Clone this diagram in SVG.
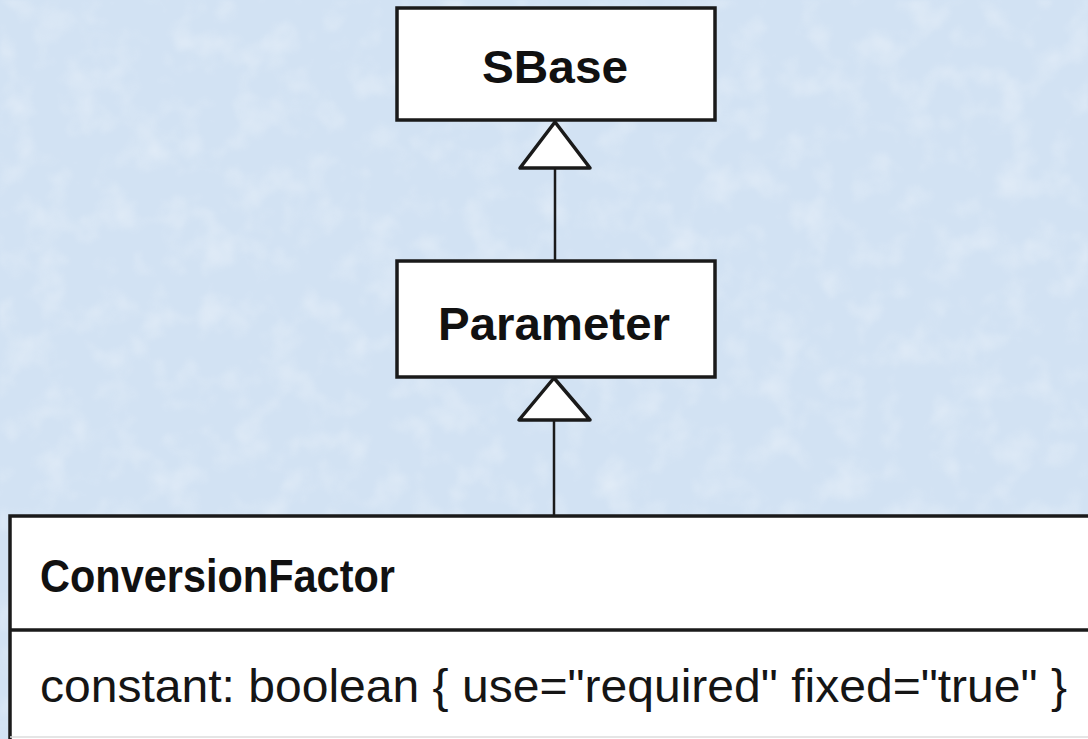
<svg xmlns="http://www.w3.org/2000/svg" width="1088" height="739" viewBox="0 0 1088 739">
  <defs>
    <style>
      .box { fill: #ffffff; stroke: #1a1a1a; stroke-width: 3.5; }
      .edge { fill: none; stroke: #1a1a1a; stroke-width: 2.5; }
      .head { fill: #ffffff; stroke: #1a1a1a; stroke-width: 3.5; stroke-linejoin: round; }
      .name { font-family: "Liberation Sans", Arial, sans-serif; font-weight: bold; fill: #111111; }
      .attr { font-family: "Liberation Sans", Arial, sans-serif; fill: #151515; }
    </style>
    <!-- soft mottled paper texture for the backdrop -->
    <filter id="mottle" x="0" y="0" width="100%" height="100%">
      <feTurbulence type="fractalNoise" baseFrequency="0.03" numOctaves="3" seed="7" result="noise"/>
      <feColorMatrix in="noise" type="matrix"
        values="0 0 0 0 1
                0 0 0 0 1
                0 0 0 0 1
                0 0 0 1.2 -0.55" result="spots"/>
      <feGaussianBlur in="spots" stdDeviation="1.5" result="soft"/>
      <feComposite in="soft" in2="SourceGraphic" operator="in"/>
    </filter>
  </defs>

  <!-- backdrop -->
  <rect x="0" y="0" width="1088" height="739" fill="#d2e2f3"/>
  <rect x="0" y="0" width="1088" height="739" fill="#d2e2f3" filter="url(#mottle)" opacity="0.55"/>

  <!-- generalization connectors -->
  <g id="connectors">
    <line class="edge" x1="555" y1="168" x2="555" y2="260"/>
    <polygon class="head" points="555,122 520,168 590,168"/>
    <line class="edge" x1="554" y1="420" x2="554" y2="516"/>
    <polygon class="head" points="554,378 519,420 590,420"/>
  </g>

  <g id="node-sbase">
    <rect class="box" x="397" y="8" width="318" height="112"/>
    <text class="name" x="555" y="83" font-size="46" text-anchor="middle" textLength="146" lengthAdjust="spacingAndGlyphs">SBase</text>
  </g>

  <g id="node-parameter">
    <rect class="box" x="397" y="261" width="318" height="116"/>
    <text class="name" x="554" y="340" font-size="46" text-anchor="middle" textLength="232" lengthAdjust="spacingAndGlyphs">Parameter</text>
  </g>

  <g id="node-conversionfactor">
    <rect class="box" x="10" y="516" width="1090" height="230"/>
    <line x1="10" y1="630" x2="1088" y2="630" stroke="#1a1a1a" stroke-width="3.5"/>
    <line x1="10" y1="737" x2="1088" y2="737" stroke="#dddddd" stroke-width="1.5"/>
    <text class="name" x="40" y="592" font-size="46" textLength="355" lengthAdjust="spacingAndGlyphs">ConversionFactor</text>
    <text class="attr" x="40" y="702" font-size="47" textLength="1027" lengthAdjust="spacingAndGlyphs">constant: boolean { use="required" fixed="true" }</text>
  </g>
</svg>
